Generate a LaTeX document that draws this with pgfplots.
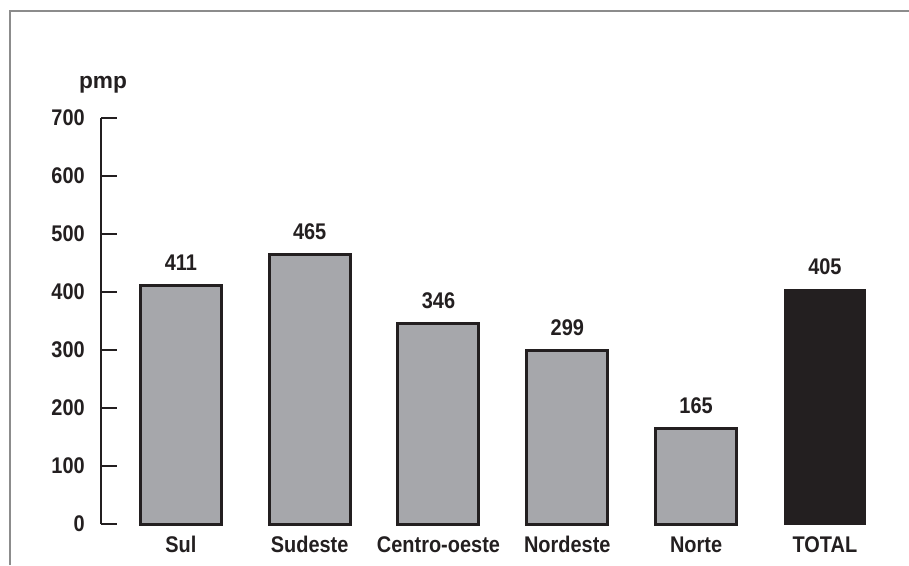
\documentclass[border=0pt]{standalone}
\usepackage{pgfplots}
\pgfplotsset{compat=1.18}
\usepackage{fontspec}
\setmainfont{Liberation Sans}[FakeStretch=0.88]
\newfontfamily\widefont{Liberation Sans}
\definecolor{barfill}{HTML}{A6A7AB}
\definecolor{ink}{HTML}{231F20}
\definecolor{framegray}{HTML}{8C8C8C}
\begin{document}
\begin{tikzpicture}
\useasboundingbox (0,0) rectangle (681.75pt,423.75pt);
\draw[framegray, line width=1.5pt] (7.5pt,0) -- (7.5pt,415.5pt) -- (681.75pt,415.5pt);
\node[font=\widefont\bfseries\fontsize{17}{17}\selectfont, text=ink, anchor=base] at (77.25pt,357.5pt) {pmp};
\begin{axis}[
  at={(75.75pt,30.75pt)}, anchor=south west,
  scale only axis, width=600.9pt, height=304.5pt,
  xmin=-0.62, xmax=5.6, ymin=0, ymax=700,
  axis lines*=left,
  x axis line style={draw=none},
  y axis line style={ink, line width=1pt},
  xtick={0,1,2,3,4,5},
  xticklabels={Sul,Sudeste,Centro-oeste,Nordeste,Norte,TOTAL},
  xtick style={draw=none},
  ytick={0,100,...,700},
  ytick pos=left,
  tick align=inside,
  major tick length=12pt,
  ytick style={ink, line width=1pt},
  /pgf/number format/assume math mode=true,
  tick label style={font=\bfseries\fontsize{17}{17}\selectfont, text=ink},
  yticklabel style={anchor=east, inner sep=0pt, xshift=-12pt},
  xticklabel style={anchor=base, inner sep=0pt, yshift=-9.5pt},
  ybar, bar width=60.75pt,
  nodes near coords,
  every node near coord/.append style={font=\bfseries\fontsize{17}{17}\selectfont, text=ink, anchor=base, inner sep=0pt, yshift=11pt},
  clip=false,
]
\addplot[bar shift=0pt, fill=barfill, draw=ink, line width=2.25pt] coordinates {
  (0,411) (1,465) (2,346) (3,299) (4,165)
};
\addplot[bar shift=0pt, fill=ink, draw=ink, line width=0.5pt] coordinates {
  (5,405)
};
\end{axis}
\end{tikzpicture}
\end{document}
